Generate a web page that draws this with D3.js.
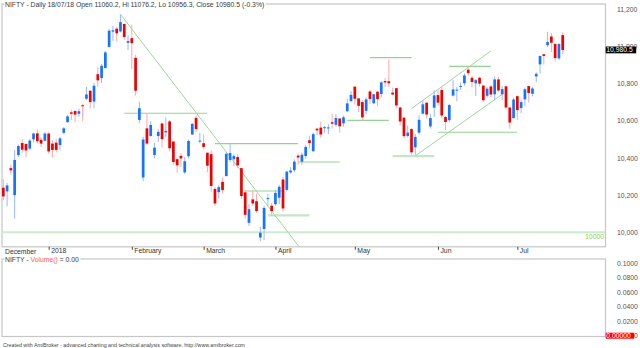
<!DOCTYPE html>
<html>
<head>
<meta charset="utf-8">
<script src="https://cdn.jsdelivr.net/npm/d3@7"></script>
<style>
  body { margin: 0; background: #fff; }
  svg { display: block; }
  text { font-family: "Liberation Sans", Arial, sans-serif; }
</style>
</head>
<body>
<svg id="chart" width="640" height="348"></svg>
<script>
// ---- NIFTY daily bars, 13 Dec 2017 – 18 Jul 2018 ----
const dates = [
  "2017-12-13","2017-12-14","2017-12-15","2017-12-18","2017-12-19","2017-12-20","2017-12-21","2017-12-22","2017-12-26","2017-12-27","2017-12-28","2017-12-29",
  "2018-01-01","2018-01-02","2018-01-03","2018-01-04","2018-01-05","2018-01-08","2018-01-09","2018-01-10","2018-01-11","2018-01-12","2018-01-15","2018-01-16","2018-01-17","2018-01-18","2018-01-19","2018-01-22","2018-01-23","2018-01-24","2018-01-25","2018-01-29","2018-01-30","2018-01-31",
  "2018-02-01","2018-02-02","2018-02-05","2018-02-06","2018-02-07","2018-02-08","2018-02-09","2018-02-12","2018-02-14","2018-02-15","2018-02-16","2018-02-19","2018-02-20","2018-02-21","2018-02-22","2018-02-23","2018-02-26","2018-02-27","2018-02-28",
  "2018-03-01","2018-03-05","2018-03-06","2018-03-07","2018-03-08","2018-03-09","2018-03-12","2018-03-13","2018-03-14","2018-03-15","2018-03-16","2018-03-19","2018-03-20","2018-03-21","2018-03-22","2018-03-23","2018-03-26","2018-03-27","2018-03-28",
  "2018-04-02","2018-04-03","2018-04-04","2018-04-05","2018-04-06","2018-04-09","2018-04-10","2018-04-11","2018-04-12","2018-04-13","2018-04-16","2018-04-17","2018-04-18","2018-04-19","2018-04-20","2018-04-23","2018-04-24","2018-04-25","2018-04-26","2018-04-27","2018-04-30",
  "2018-05-02","2018-05-03","2018-05-04","2018-05-07","2018-05-08","2018-05-09","2018-05-10","2018-05-11","2018-05-14","2018-05-15","2018-05-16","2018-05-17","2018-05-18","2018-05-21","2018-05-22","2018-05-23","2018-05-24","2018-05-25","2018-05-28","2018-05-29","2018-05-30","2018-05-31",
  "2018-06-01","2018-06-04","2018-06-05","2018-06-06","2018-06-07","2018-06-08","2018-06-11","2018-06-12","2018-06-13","2018-06-14","2018-06-15","2018-06-18","2018-06-19","2018-06-20","2018-06-21","2018-06-22","2018-06-25","2018-06-26","2018-06-27","2018-06-28","2018-06-29",
  "2018-07-02","2018-07-03","2018-07-04","2018-07-05","2018-07-06","2018-07-09","2018-07-10","2018-07-11","2018-07-12","2018-07-13","2018-07-16","2018-07-17","2018-07-18"
];
const open = [
  10240,10220,10345,10200,10415,10480,10475,10450,10500,10532,10497,10492,
  10531,10477,10482,10469,10535,10592,10645,10652,10637,10683,10718,10761,10703,10850,10829,10883,10997,11079,11095,11080,11120,11019,
  11044,10938,10604,10295,10559,10518,10416,10518,10585,10537,10596,10488,10393,10411,10322,10409,10526,10615,10488,
  10479,10428,10420,10233,10216,10271,10302,10389,10393,10405,10345,10215,10051,10177,10167,9972,10018,10179,10143,
  10151,10186,10284,10228,10322,10334,10412,10380,10410,10495,10436,10557,10563,10564,10560,10592,10578,10612,10586,10651,10705,
  10783,10720,10700,10653,10757,10694,10756,10743,10813,10812,10751,10775,10671,10616,10518,10555,10457,10536,10638,10697,10569,10670,
  10738,10765,10620,10603,10735,10766,10782,10801,10874,10831,10801,10831,10789,10734,10784,10742,10822,10742,10785,10671,10614,
  10732,10668,10715,10786,10745,10838,10903,10957,11006,11053,11012,10935,11060.2
];
const high = [
  10285,10265,10365,10443,10472,10502,10478,10502,10535,10552,10510,10538,
  10538,10495,10503,10513,10566,10631,10659,10655,10664,10690,10782,10762,10803,10887,10906,10975,11093,11110,11106,11171,11122,11058,
  11117,10954,10702,10513,10636,10598,10480,10555,10589,10618,10604,10489,10397,10426,10405,10499,10588,10628,10536,
  10526,10428,10441,10244,10255,10296,10431,10478,10420,10420,10346,10228,10153,10227,10207,10030,10143,10207,10158,
  10228,10255,10298,10331,10350,10392,10424,10428,10469,10519,10535,10560,10594,10572,10582,10638,10636,10612,10628,10719,10759,
  10785,10720,10712,10725,10767,10743,10760,10812,10830,10929,10777,10777,10674,10621,10573,10560,10528,10628,10710,10697,10637,10763,
  10764,10784,10625,10691,10819,10782,10806,10855,10893,10842,10824,10837,10789,10781,10793,10837,10834,10786,10785,10671,10724,
  10736,10713,10777,10787,10782,10860,10950,10959,11078,11071,11019,11019,11076.2
];
const low = [
  10172,10140,10310,10074,10405,10428,10403,10443,10483,10477,10459,10489,
  10424,10404,10429,10441,10527,10589,10603,10592,10621,10597,10710,10666,10666,10782,10802,10881,10993,11030,11027,11075,11034,10979,
  10878,10736,10586,10276,10469,10513,10398,10486,10456,10511,10434,10361,10321,10351,10314,10397,10523,10539,10478,
  10447,10323,10218,10141,10183,10211,10302,10377,10356,10346,10180,10074,10034,10142,10105,9952,9958,10139,10090,
  10143,10151,10111,10220,10315,10323,10362,10363,10395,10451,10432,10522,10509,10535,10528,10559,10568,10536,10568,10647,10702,
  10689,10647,10601,10635,10689,10690,10678,10725,10781,10781,10738,10669,10575,10505,10509,10418,10417,10525,10634,10612,10558,10620,
  10681,10612,10550,10591,10730,10704,10765,10788,10842,10780,10733,10785,10701,10724,10727,10710,10757,10710,10660,10557,10613,
  10604,10640,10677,10699,10731,10807,10854,10901,10995,10969,10918,10927,10956.3
];
const close = [
  10193,10252,10333,10389,10464,10444,10440,10493,10531,10490,10477,10531,
  10435,10443,10443,10505,10559,10623,10637,10633,10651,10681,10741,10700,10788,10817,10895,10967,11084,11086,11070,11130,11050,11028,
  11017,10761,10667,10499,10477,10577,10455,10540,10501,10545,10452,10378,10360,10397,10382,10491,10583,10555,10493,
  10459,10358,10249,10155,10243,10227,10422,10426,10410,10360,10195,10094,10124,10155,10114,9998,10131,10184,10114,
  10212,10245,10128,10326,10332,10380,10402,10417,10459,10480,10528,10548,10526,10565,10564,10584,10614,10570,10618,10693,10739,
  10718,10680,10618,10715,10717,10742,10716,10806,10806,10801,10741,10682,10596,10517,10536,10430,10513,10605,10688,10633,10614,10736,
  10697,10628,10593,10684,10768,10767,10787,10843,10856,10808,10818,10799,10710,10772,10741,10822,10762,10770,10671,10590,10714,
  10657,10700,10769,10749,10773,10852,10948,10948,11023,11019,10937,11012,10980.5
];

// axis ticks and labels
const priceTicks = [10000, 10200, 10400, 10600, 10800, 11000, 11200];
const volumeTicks = [0, 0.02, 0.04, 0.06, 0.08, 0.1];
const firstMonthLabel = "December";
const monthTickDates = ["2018-01-01","2018-02-01","2018-03-01","2018-04-02","2018-05-02","2018-06-01","2018-07-02"];
const monthTickLabels = ["2018","February","March","April","May","Jun","Jul"];

// study lines: horizontal levels
const levelFrom  = ["2018-01-30","2018-03-07","2018-04-10","2018-03-19","2018-03-27","2018-05-08","2018-04-27","2018-06-06","2018-06-01","2018-05-16"];
const levelTo    = ["2018-03-05","2018-04-10","2018-04-25","2018-04-04","2018-04-13","2018-05-23","2018-05-15","2018-06-21","2018-07-02","2018-05-31"];
const levelPrice = [10640, 10477, 10378, 10222, 10091, 10939, 10602, 10892, 10538, 10410];
// study lines: sloped trend lines
const trendFrom      = ["2018-01-29","2018-05-23","2018-05-24"];
const trendFromPrice = [11172, 10665, 10411];
const trendTo        = ["2018-04-11","2018-06-21","2018-06-26"];
const trendToPrice   = [9903, 10975, 10742];
const supportLevel = 10000;

// ---------------------------------------------------------------
const svg = d3.select("#chart");
const FONT = 6.8;
const main = { left: 2, right: 605.5, top: 4, bottom: 246.8 };
const vol  = { left: 2, right: 605.5, top: 259, bottom: 336.5 };

const x  = d3.scalePoint().domain(dates).range([3.3, 562.7]);
const y  = d3.scaleLinear().domain([10000, 11200]).range([232.3, 9.1]);
const yv = d3.scaleLinear().domain([0, 0.1]).range([335.7, 263.3]);

svg.append("defs").append("clipPath").attr("id", "mainClip")
  .append("rect")
  .attr("x", main.left).attr("y", main.top)
  .attr("width", main.right - main.left).attr("height", main.bottom - main.top);

// panel frames
[main, vol].forEach(p => {
  svg.append("rect")
    .attr("x", p.left).attr("y", p.top)
    .attr("width", p.right - p.left).attr("height", p.bottom - p.top)
    .attr("fill", "none").attr("stroke", "#c6c6c6").attr("stroke-width", 1.2);
});

const plot = svg.append("g").attr("clip-path", "url(#mainClip)");

// 10000 support line
plot.append("line")
  .attr("x1", main.left).attr("x2", main.right)
  .attr("y1", y(supportLevel)).attr("y2", y(supportLevel))
  .attr("stroke", "#cdeccd").attr("stroke-width", 2);

// horizontal levels
const paleLevels = new Set([4, 9]);
levelPrice.forEach((p, i) => {
  plot.append("line")
    .attr("x1", x(levelFrom[i])).attr("x2", x(levelTo[i]))
    .attr("y1", y(p)).attr("y2", y(p))
    .attr("stroke", paleLevels.has(i) ? "#c4e6c4" : "#93d493")
    .attr("stroke-width", paleLevels.has(i) ? 2.2 : 1.1);
});

// sloped trend lines
trendFrom.forEach((d, i) => {
  plot.append("line")
    .attr("x1", x(d)).attr("y1", y(trendFromPrice[i]))
    .attr("x2", x(trendTo[i])).attr("y2", y(trendToPrice[i]))
    .attr("stroke", "#9ad89a").attr("stroke-width", 1);
});

// candles
const bars = dates.map((d, i) => ({ d, o: open[i], h: high[i], l: low[i], c: close[i] }));
const up = b => b.c >= b.o;

plot.append("g").selectAll("line").data(bars).join("line")
  .attr("x1", b => x(b.d)).attr("x2", b => x(b.d))
  .attr("y1", b => y(b.h)).attr("y2", b => y(b.l))
  .attr("stroke", b => up(b) ? "#98b9ff" : "#ffa8a8")
  .attr("stroke-width", 1);

plot.append("g").selectAll("rect").data(bars).join("rect")
  .attr("x", b => x(b.d) - 1.35)
  .attr("width", 2.7)
  .attr("y", b => y(Math.max(b.o, b.c)))
  .attr("height", b => Math.max(1, Math.abs(y(b.o) - y(b.c))))
  .attr("fill", b => up(b) ? "#1673ff" : "#f20000");

// support label
svg.append("text")
  .attr("x", 604).attr("y", 239)
  .attr("text-anchor", "end")
  .attr("font-size", FONT).attr("fill", "#7fd35c")
  .text(String(supportLevel));

// price axis
const yAxis = svg.append("g")
  .attr("transform", "translate(617,0)")
  .call(d3.axisRight(y).tickValues(priceTicks).tickFormat(d3.format(",")).tickSize(0).tickPadding(0));
yAxis.select(".domain").remove();
yAxis.selectAll("text").attr("font-size", FONT).attr("fill", "#555").attr("font-family", null);

// last close marker (drawn over the axis label it sits on)
const last = bars[bars.length - 1];
svg.append("rect")
  .attr("x", 605.7).attr("y", y(last.c) - 3.4)
  .attr("width", 30.5).attr("height", 6.8).attr("fill", "#000");
svg.append("text")
  .attr("x", 606.3).attr("y", y(last.c) + 2.4)
  .attr("font-size", FONT).attr("fill", "#fff")
  .text(d3.format(",.1f")(last.c));

// date axis
const xAxis = svg.append("g")
  .attr("transform", `translate(0,${main.bottom})`)
  .call(d3.axisBottom(x).tickValues(monthTickDates)
    .tickFormat((d, i) => monthTickLabels[i]).tickSizeInner(3).tickSizeOuter(0));
xAxis.select(".domain").remove();
xAxis.selectAll("line").attr("stroke", "#444");
xAxis.selectAll("text")
  .attr("font-size", FONT).attr("fill", "#333").attr("font-family", null)
  .attr("text-anchor", "start").attr("x", 2).attr("y", 6.7).attr("dy", null);
svg.append("text")
  .attr("x", 5).attr("y", main.bottom + 6.7)
  .attr("font-size", FONT).attr("fill", "#333")
  .text(firstMonthLabel);

// main title with a gap in the frame
const prev = bars[bars.length - 2];
const pct = (last.c - prev.c) / prev.c * 100;
const titleText = `NIFTY - Daily 18/07/18 Open ${last.o}, Hi ${last.h}, Lo ${last.l}, Close ${last.c} (${pct.toFixed(1)}%)`;
const titleBg = svg.append("rect").attr("fill", "#fff");
const title = svg.append("text")
  .attr("x", 5).attr("y", 6.8)
  .attr("font-size", FONT).attr("fill", "#3a3a3a")
  .text(titleText);
const tb = title.node().getBBox();
titleBg.attr("x", tb.x - 0.5).attr("y", main.top - 1.5).attr("width", tb.width + 2).attr("height", 3);

// volume panel
const vAxis = svg.append("g")
  .attr("transform", "translate(617,0)")
  .call(d3.axisRight(yv).tickValues(volumeTicks).tickFormat(d3.format(".4f")).tickSize(0).tickPadding(0));
vAxis.select(".domain").remove();
vAxis.selectAll("text").attr("font-size", FONT).attr("fill", "#555").attr("font-family", null);

svg.append("rect")
  .attr("x", 605.7).attr("y", yv(0) - 3)
  .attr("width", 28.5).attr("height", 6).attr("fill", "#ff0000");
svg.append("text")
  .attr("x", 606.3).attr("y", yv(0) + 2.3)
  .attr("font-size", FONT).attr("fill", "#fff")
  .text(d3.format(".5f")(0));

const vTitleBg = svg.append("rect").attr("fill", "#fff");
const vTitle = svg.append("text")
  .attr("x", 5).attr("y", 262)
  .attr("font-size", FONT).attr("fill", "#3a3a3a");
vTitle.append("tspan").text("NIFTY - ");
vTitle.append("tspan").attr("fill", "#ff5a5a").text("Volume()");
vTitle.append("tspan").text(" = " + d3.format(".2f")(0));
const vb = vTitle.node().getBBox();
vTitleBg.attr("x", vb.x - 0.5).attr("y", vol.top - 1.5).attr("width", vb.width + 2).attr("height", 3);

// footer
svg.append("text")
  .attr("x", 3).attr("y", 346.5)
  .attr("font-size", 5.3).attr("fill", "#444")
  .text("Created with AmiBroker - advanced charting and technical analysis software. http://www.amibroker.com");
</script>
</body>
</html>
